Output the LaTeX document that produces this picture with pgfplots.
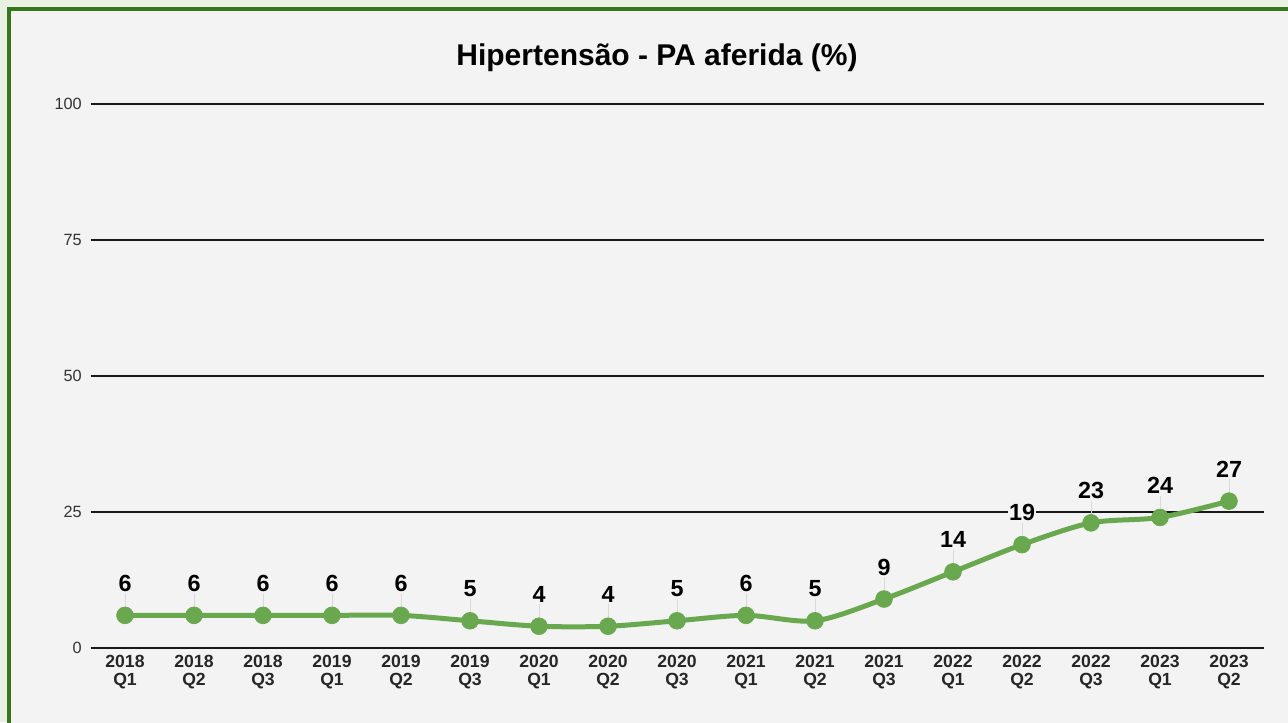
\documentclass[border=0pt]{standalone}
\usepackage{pgfplots}
\pgfplotsset{compat=1.18}
\usepackage{fontspec}
\setmainfont{Liberation Sans}

\definecolor{bgOuter}{HTML}{E9F1E3}
\definecolor{bgInner}{HTML}{F3F3F3}
\definecolor{frameGreen}{HTML}{38761D}
\definecolor{lineGreen}{HTML}{6AA84F}

\begin{document}
\begin{tikzpicture}
    % page and frame (1 px = 0.75pt)
    \fill[bgOuter] (0,0) rectangle (966pt,541.5pt);
    \useasboundingbox (0,0) rectangle (966pt,541.5pt);
    \begin{scope}
        \clip (0,0) rectangle (966pt,541.5pt);
        \filldraw[fill=bgInner, draw=frameGreen, line width=2.6pt] (6.75pt,-20pt) rectangle (990pt,534.75pt);
    \end{scope}
    \node[font=\bfseries\fontsize{22.5}{26}\selectfont] at (492.75pt,498.5pt) {Hipertensão - PA aferida (\%)};

    \begin{axis}[
        at={(67.875pt,55.5pt)},
        anchor=south west,
        scale only axis,
        width=879.75pt,
        height=408pt,
        xmin=-0.5, xmax=16.5,
        ymin=0, ymax=100,
        enlargelimits=false,
        axis line style={draw=none},
        tick style={draw=none},
        major tick length=0pt,
        ytick={0,25,50,75,100},
        ymajorgrids,
        major grid style={black!90, line width=0.9pt},
        xtick={0,...,16},
        xticklabels={{2018\\Q1},{2018\\Q2},{2018\\Q3},{2019\\Q1},{2019\\Q2},{2019\\Q3},
                     {2020\\Q1},{2020\\Q2},{2020\\Q3},{2021\\Q1},{2021\\Q2},{2021\\Q3},
                     {2022\\Q1},{2022\\Q2},{2022\\Q3},{2023\\Q1},{2023\\Q2}},
        xticklabel style={align=center, font=\bfseries\fontsize{13.2}{13}\selectfont, text=black!85, yshift=-2pt},
        yticklabel style={font=\fontsize{12.2}{14}\selectfont, text=black!80, xshift=-3pt},
        /pgf/number format/assume math mode=true,
        clip=false,
    ]
        % thin leader lines from points to labels
        \addplot[gray!30, line width=0.7pt, only marks, mark=none,
            error bars/.cd, y dir=plus, y explicit, error mark=none]
        coordinates {
            (0,6) +- (0,4)  (1,6) +- (0,4)  (2,6) +- (0,4)  (3,6) +- (0,4)
            (4,6) +- (0,4)  (5,5) +- (0,4)  (6,4) +- (0,4)  (7,4) +- (0,4)
            (8,5) +- (0,4)  (9,6) +- (0,4)  (10,5) +- (0,4) (11,9) +- (0,4)
            (12,14) +- (0,4) (13,19) +- (0,4) (14,23) +- (0,4) (15,24) +- (0,4)
            (16,27) +- (0,4)
        };
        % Hipertensao - PA aferida
        \addplot[lineGreen, line width=3.75pt, smooth, tension=0.5,
            mark=*, mark size=6.3pt,
            mark options={fill=lineGreen, draw=lineGreen, line width=0.5pt},
            nodes near coords,
            every node near coord/.append style={
                font=\bfseries\fontsize{17.5}{19}\selectfont, text=black,
                anchor=base, yshift=18pt, fill=bgInner, inner sep=1pt},
        ] coordinates {
            (0,6) (1,6) (2,6) (3,6) (4,6) (5,5) (6,4) (7,4) (8,5)
            (9,6) (10,5) (11,9) (12,14) (13,19) (14,23) (15,24) (16,27)
        };
    \end{axis}
\end{tikzpicture}
\end{document}
